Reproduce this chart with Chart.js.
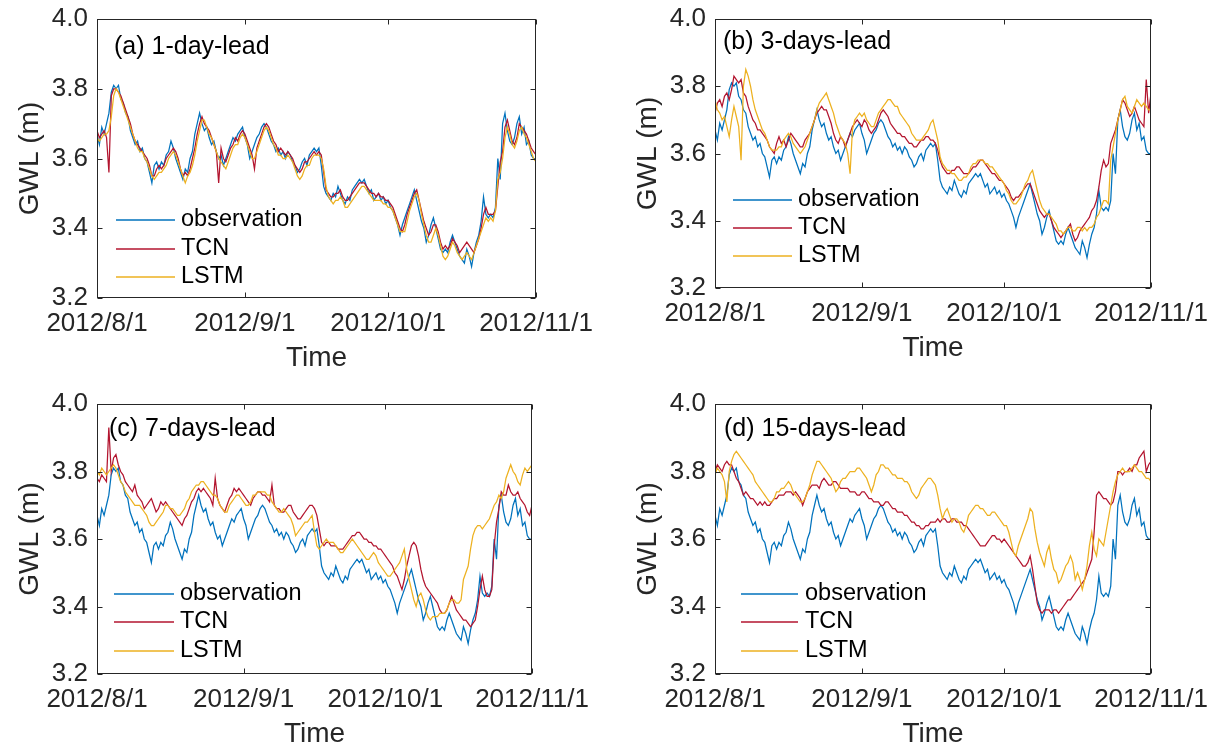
<!DOCTYPE html>
<html>
<head>
<meta charset="utf-8">
<script src="https://cdn.jsdelivr.net/npm/chart.js@4.4.1/dist/chart.umd.min.js"></script>
<style>
  html, body { margin: 0; padding: 0; background: #fff; }
  body { width: 1221px; height: 756px; position: relative; overflow: hidden; }
  canvas { position: absolute; }
</style>
</head>
<body>
<script>
// samples every half day, starting 2012/8/1
const STEP = 0.5;
const tickDays = [0, 31, 61, 92];
const tickLabels = ['2012/8/1', '2012/9/1', '2012/10/1', '2012/11/1'];
const yTicks = [3.2, 3.4, 3.6, 3.8, 4.0];
const seriesNames = ['observation', 'TCN', 'LSTM'];

const observation = [
  3.67,3.64,3.69,3.67,3.70,3.73,3.79,3.81,3.80,3.81, 3.77,3.76,3.73,3.72,3.68,3.66,3.64,3.65,3.62,3.63,
  3.60,3.59,3.56,3.53,3.58,3.59,3.57,3.59,3.58,3.61, 3.62,3.65,3.63,3.60,3.58,3.56,3.54,3.57,3.56,3.60,
  3.62,3.67,3.70,3.73,3.70,3.68,3.69,3.66,3.64,3.65, 3.62,3.60,3.61,3.58,3.60,3.62,3.64,3.66,3.65,3.67,
  3.68,3.69,3.66,3.64,3.60,3.62,3.64,3.66,3.67,3.69, 3.70,3.69,3.67,3.65,3.64,3.62,3.63,3.61,3.62,3.60,
  3.62,3.61,3.59,3.58,3.56,3.57,3.59,3.60,3.58,3.61, 3.62,3.63,3.62,3.63,3.58,3.52,3.50,3.49,3.48,3.50,
  3.49,3.52,3.50,3.48,3.47,3.49,3.48,3.51,3.52,3.53, 3.54,3.53,3.54,3.52,3.50,3.51,3.48,3.49,3.50,3.48,
  3.49,3.47,3.48,3.46,3.45,3.43,3.41,3.38,3.41,3.43, 3.45,3.47,3.49,3.51,3.48,3.45,3.42,3.40,3.36,3.38,
  3.41,3.43,3.40,3.37,3.34,3.33,3.34,3.33,3.36,3.38, 3.36,3.34,3.32,3.31,3.30,3.34,3.32,3.29,3.33,3.36,
  3.38,3.42,3.49,3.44,3.43,3.44,3.43,3.46,3.60,3.54, 3.70,3.73,3.68,3.65,3.64,3.66,3.70,3.72,3.67,3.69,
  3.64,3.65,3.61,3.60,3.60
];

const tcn1 = [
  3.68,3.66,3.67,3.68,3.66,3.56,3.78,3.80,3.80,3.79, 3.78,3.76,3.74,3.72,3.70,3.67,3.65,3.64,3.63,3.62,
  3.61,3.60,3.58,3.55,3.55,3.57,3.58,3.57,3.58,3.60, 3.61,3.62,3.63,3.62,3.60,3.57,3.55,3.56,3.55,3.57,
  3.60,3.63,3.67,3.70,3.72,3.70,3.69,3.68,3.66,3.64, 3.62,3.53,3.63,3.60,3.59,3.61,3.63,3.64,3.66,3.65,
  3.67,3.68,3.67,3.65,3.63,3.61,3.57,3.63,3.65,3.67, 3.69,3.70,3.69,3.67,3.65,3.64,3.62,3.63,3.62,3.61,
  3.62,3.61,3.60,3.58,3.57,3.56,3.57,3.59,3.59,3.60, 3.61,3.62,3.61,3.62,3.61,3.56,3.51,3.50,3.49,3.49,
  3.50,3.50,3.51,3.49,3.48,3.48,3.49,3.50,3.51,3.52, 3.53,3.53,3.53,3.52,3.51,3.50,3.50,3.49,3.50,3.49,
  3.49,3.48,3.48,3.47,3.46,3.44,3.42,3.40,3.39,3.41, 3.44,3.46,3.48,3.50,3.51,3.48,3.45,3.42,3.40,3.38,
  3.39,3.41,3.41,3.39,3.36,3.34,3.35,3.34,3.35,3.37, 3.36,3.35,3.33,3.34,3.35,3.36,3.35,3.34,3.33,3.35,
  3.37,3.40,3.44,3.46,3.44,3.44,3.44,3.45,3.52,3.59, 3.62,3.69,3.71,3.68,3.65,3.64,3.66,3.70,3.69,3.68,
  3.67,3.65,3.63,3.62,3.61
];
const lstm1 = [
  3.66,3.65,3.66,3.67,3.67,3.68,3.72,3.78,3.80,3.79, 3.77,3.75,3.73,3.71,3.69,3.67,3.65,3.63,3.62,3.62,
  3.60,3.59,3.57,3.55,3.54,3.55,3.56,3.56,3.57,3.58, 3.60,3.61,3.62,3.61,3.59,3.57,3.55,3.53,3.55,3.56,
  3.58,3.61,3.65,3.68,3.71,3.71,3.69,3.67,3.66,3.64, 3.62,3.60,3.59,3.58,3.57,3.59,3.61,3.63,3.64,3.64,
  3.66,3.67,3.66,3.64,3.62,3.60,3.60,3.62,3.64,3.66, 3.68,3.69,3.68,3.66,3.64,3.63,3.61,3.61,3.60,3.60,
  3.61,3.60,3.59,3.57,3.55,3.54,3.55,3.57,3.58,3.58, 3.60,3.61,3.61,3.61,3.60,3.57,3.52,3.49,3.48,3.47,
  3.48,3.48,3.49,3.48,3.46,3.46,3.47,3.48,3.49,3.50, 3.51,3.52,3.52,3.51,3.50,3.49,3.48,3.48,3.48,3.48,
  3.47,3.47,3.46,3.46,3.45,3.43,3.41,3.39,3.39,3.39, 3.42,3.45,3.47,3.49,3.50,3.48,3.44,3.41,3.38,3.36,
  3.36,3.38,3.40,3.38,3.35,3.32,3.31,3.32,3.34,3.36, 3.35,3.33,3.32,3.31,3.32,3.33,3.32,3.31,3.33,3.35,
  3.37,3.39,3.41,3.43,3.42,3.43,3.42,3.45,3.54,3.56, 3.60,3.66,3.69,3.67,3.64,3.63,3.65,3.68,3.69,3.67,
  3.66,3.64,3.62,3.60,3.59
];

const tcn3 = [
  3.72,3.75,3.76,3.74,3.77,3.78,3.76,3.79,3.83,3.82, 3.81,3.82,3.78,3.77,3.74,3.72,3.70,3.69,3.67,3.67,
  3.66,3.65,3.64,3.62,3.61,3.60,3.63,3.65,3.63,3.64, 3.62,3.64,3.66,3.65,3.64,3.63,3.62,3.62,3.64,3.65,
  3.66,3.68,3.70,3.72,3.73,3.74,3.73,3.73,3.71,3.69, 3.66,3.64,3.63,3.65,3.64,3.62,3.64,3.66,3.68,3.69,
  3.70,3.69,3.68,3.70,3.69,3.67,3.66,3.67,3.68,3.70, 3.72,3.73,3.72,3.71,3.69,3.68,3.67,3.66,3.66,3.65,
  3.65,3.64,3.63,3.63,3.62,3.62,3.63,3.64,3.64,3.65, 3.65,3.64,3.64,3.63,3.61,3.58,3.56,3.55,3.54,3.54,
  3.55,3.55,3.56,3.56,3.55,3.54,3.54,3.54,3.55,3.56, 3.56,3.57,3.58,3.58,3.57,3.56,3.55,3.54,3.54,3.53,
  3.52,3.52,3.51,3.50,3.49,3.47,3.46,3.47,3.47,3.48, 3.49,3.50,3.51,3.51,3.49,3.47,3.45,3.43,3.42,3.41,
  3.42,3.42,3.40,3.38,3.37,3.36,3.35,3.36,3.37,3.38, 3.39,3.36,3.34,3.35,3.37,3.38,3.39,3.40,3.41,3.43,
  3.44,3.46,3.50,3.55,3.58,3.56,3.57,3.63,3.65,3.67, 3.70,3.73,3.76,3.75,3.73,3.71,3.72,3.74,3.72,3.70,
  3.69,3.68,3.82,3.72,3.78
];
const lstm3 = [
  3.76,3.73,3.72,3.70,3.71,3.68,3.65,3.70,3.74,3.71, 3.68,3.58,3.80,3.85,3.83,3.80,3.76,3.73,3.71,3.69,
  3.67,3.66,3.64,3.62,3.61,3.61,3.61,3.62,3.62,3.64, 3.65,3.66,3.65,3.63,3.62,3.61,3.60,3.61,3.62,3.64,
  3.66,3.68,3.70,3.73,3.75,3.76,3.77,3.78,3.76,3.74, 3.72,3.69,3.67,3.65,3.64,3.63,3.60,3.54,3.67,3.70,
  3.71,3.72,3.71,3.72,3.70,3.69,3.68,3.68,3.70,3.72, 3.73,3.74,3.75,3.76,3.76,3.75,3.74,3.74,3.72,3.71,
  3.70,3.69,3.68,3.66,3.65,3.64,3.64,3.64,3.65,3.66, 3.67,3.69,3.70,3.67,3.64,3.59,3.57,3.56,3.55,3.55,
  3.54,3.54,3.53,3.52,3.52,3.53,3.53,3.54,3.56,3.57, 3.57,3.58,3.58,3.58,3.57,3.57,3.56,3.56,3.55,3.54,
  3.53,3.52,3.51,3.49,3.48,3.46,3.45,3.45,3.46,3.47, 3.49,3.51,3.52,3.54,3.55,3.52,3.49,3.46,3.44,3.43,
  3.42,3.42,3.41,3.40,3.39,3.37,3.37,3.36,3.37,3.38, 3.38,3.37,3.37,3.38,3.38,3.37,3.38,3.37,3.38,3.38,
  3.39,3.41,3.42,3.44,3.46,3.46,3.45,3.58,3.62,3.66, 3.70,3.73,3.76,3.77,3.74,3.73,3.72,3.74,3.76,3.75,
  3.74,3.75,3.74,3.73,3.73
];

const tcn7 = [
  3.78,3.77,3.79,3.78,3.77,3.93,3.80,3.84,3.85,3.82, 3.80,3.79,3.77,3.76,3.75,3.74,3.76,3.73,3.72,3.71,
  3.69,3.70,3.71,3.72,3.70,3.68,3.69,3.71,3.70,3.71, 3.70,3.69,3.68,3.67,3.66,3.65,3.64,3.66,3.67,3.69,
  3.71,3.72,3.74,3.75,3.74,3.75,3.74,3.73,3.72,3.70, 3.78,3.72,3.70,3.69,3.68,3.70,3.72,3.73,3.75,3.74,
  3.75,3.74,3.73,3.72,3.71,3.70,3.72,3.73,3.74,3.74, 3.73,3.73,3.72,3.71,3.76,3.70,3.69,3.69,3.68,3.68,
  3.69,3.70,3.70,3.68,3.67,3.66,3.66,3.67,3.68,3.69, 3.70,3.70,3.69,3.67,3.63,3.59,3.58,3.59,3.59,3.58,
  3.58,3.58,3.57,3.57,3.57,3.58,3.59,3.60,3.61,3.61, 3.62,3.62,3.61,3.60,3.60,3.59,3.59,3.58,3.58,3.57,
  3.57,3.56,3.55,3.54,3.53,3.52,3.50,3.49,3.47,3.45, 3.48,3.52,3.55,3.58,3.59,3.58,3.55,3.51,3.48,3.46,
  3.45,3.44,3.43,3.42,3.41,3.39,3.38,3.38,3.39,3.41, 3.43,3.41,3.39,3.38,3.37,3.36,3.36,3.35,3.34,3.35,
  3.36,3.40,3.45,3.49,3.45,3.43,3.43,3.45,3.58,3.65, 3.69,3.74,3.73,3.73,3.76,3.74,3.73,3.73,3.74,3.72,
  3.71,3.70,3.68,3.67,3.70
];
const lstm7 = [
  3.80,3.79,3.81,3.80,3.79,3.80,3.81,3.82,3.81,3.79, 3.77,3.76,3.74,3.73,3.72,3.71,3.70,3.70,3.70,3.69,
  3.68,3.67,3.65,3.64,3.64,3.65,3.66,3.67,3.68,3.70, 3.70,3.69,3.69,3.68,3.67,3.67,3.68,3.69,3.71,3.72,
  3.74,3.75,3.76,3.76,3.77,3.77,3.76,3.75,3.74,3.73, 3.73,3.72,3.70,3.69,3.68,3.68,3.70,3.71,3.72,3.73,
  3.73,3.72,3.71,3.70,3.70,3.71,3.73,3.73,3.74,3.74, 3.74,3.74,3.73,3.73,3.71,3.70,3.69,3.68,3.68,3.69,
  3.68,3.67,3.66,3.64,3.61,3.62,3.63,3.64,3.65,3.65, 3.66,3.67,3.62,3.58,3.57,3.58,3.59,3.60,3.59,3.59,
  3.59,3.58,3.57,3.56,3.56,3.57,3.58,3.59,3.60,3.59, 3.58,3.57,3.56,3.55,3.54,3.54,3.55,3.56,3.55,3.53,
  3.52,3.51,3.50,3.49,3.49,3.50,3.51,3.52,3.53,3.55, 3.57,3.51,3.48,3.45,3.42,3.40,3.43,3.44,3.42,3.39,
  3.37,3.36,3.37,3.37,3.37,3.38,3.38,3.38,3.39,3.41, 3.42,3.42,3.41,3.41,3.42,3.48,3.50,3.52,3.57,3.61,
  3.63,3.64,3.64,3.63,3.64,3.65,3.66,3.68,3.70,3.71, 3.73,3.72,3.74,3.78,3.80,3.82,3.80,3.79,3.77,3.76,
  3.79,3.81,3.80,3.81,3.82
];

const tcn15 = [
  3.80,3.82,3.81,3.80,3.82,3.83,3.82,3.82,3.80,3.78, 3.77,3.75,3.73,3.74,3.73,3.72,3.72,3.71,3.70,3.71,
  3.70,3.71,3.70,3.70,3.71,3.72,3.72,3.73,3.73,3.73, 3.74,3.74,3.74,3.73,3.74,3.73,3.72,3.70,3.72,3.74,
  3.75,3.76,3.76,3.76,3.75,3.77,3.78,3.77,3.76,3.76, 3.77,3.77,3.76,3.75,3.75,3.75,3.75,3.74,3.74,3.74,
  3.73,3.73,3.74,3.74,3.73,3.72,3.72,3.71,3.71,3.71, 3.70,3.70,3.71,3.71,3.70,3.69,3.69,3.68,3.68,3.68,
  3.67,3.67,3.66,3.65,3.65,3.64,3.64,3.63,3.63,3.64, 3.64,3.65,3.65,3.65,3.66,3.65,3.66,3.66,3.65,3.65,
  3.66,3.66,3.65,3.65,3.65,3.64,3.64,3.63,3.62,3.61, 3.60,3.59,3.58,3.58,3.58,3.59,3.60,3.61,3.61,3.60,
  3.60,3.59,3.60,3.59,3.58,3.57,3.56,3.55,3.54,3.53, 3.52,3.52,3.53,3.55,3.51,3.46,3.41,3.39,3.38,3.39,
  3.39,3.39,3.38,3.39,3.39,3.38,3.39,3.40,3.41,3.42, 3.42,3.43,3.44,3.45,3.46,3.47,3.48,3.50,3.52,3.54,
  3.62,3.73,3.74,3.73,3.72,3.72,3.71,3.70,3.71,3.74, 3.80,3.80,3.79,3.80,3.80,3.81,3.80,3.82,3.82,3.84,
  3.85,3.86,3.80,3.82,3.83
];
const lstm15 = [
  3.79,3.81,3.80,3.79,3.77,3.71,3.80,3.83,3.85,3.86, 3.85,3.84,3.83,3.82,3.81,3.80,3.79,3.77,3.76,3.75,
  3.74,3.73,3.72,3.71,3.71,3.72,3.74,3.74,3.75,3.75, 3.76,3.77,3.76,3.74,3.73,3.72,3.71,3.71,3.72,3.74,
  3.76,3.79,3.81,3.83,3.83,3.82,3.81,3.80,3.79,3.78, 3.76,3.74,3.75,3.77,3.78,3.78,3.79,3.80,3.80,3.80,
  3.81,3.81,3.80,3.79,3.78,3.76,3.74,3.76,3.79,3.80, 3.82,3.82,3.81,3.81,3.80,3.79,3.79,3.78,3.78,3.78,
  3.77,3.77,3.76,3.74,3.73,3.72,3.73,3.75,3.76,3.77, 3.78,3.78,3.77,3.76,3.73,3.69,3.66,3.68,3.69,3.67,
  3.65,3.66,3.66,3.65,3.63,3.62,3.64,3.67,3.68,3.69, 3.70,3.70,3.69,3.69,3.68,3.67,3.67,3.68,3.68,3.67,
  3.66,3.65,3.64,3.64,3.62,3.59,3.56,3.55,3.58,3.60, 3.62,3.64,3.66,3.69,3.68,3.63,3.59,3.56,3.54,3.52,
  3.56,3.58,3.54,3.51,3.50,3.47,3.48,3.50,3.52,3.53, 3.55,3.53,3.48,3.50,3.48,3.45,3.48,3.52,3.58,3.62,
  3.57,3.55,3.60,3.59,3.58,3.62,3.66,3.70,3.74,3.77, 3.79,3.80,3.81,3.80,3.80,3.80,3.81,3.82,3.81,3.80,
  3.80,3.79,3.78,3.78,3.77
];

const COLORS = ['#0072BD', '#B3152F', '#EDB120'];
const FONT = '"Liberation Sans", Arial, Helvetica, sans-serif';
const INK = '#262626';

// page positions of each plot box, and where the title / legend sit inside it
const panels = [
  { title: '(a) 1-day-lead',   tcn: tcn1,  lstm: lstm1,  L: 97,  R: 536,  T: 19,  B: 298,
    tx: 17, ty: 28, lx1: 19, lx2: 78, ltx: 84, ly: 201, lgap: 28.5 },
  { title: '(b) 3-days-lead',  tcn: tcn3,  lstm: lstm3,  L: 715, R: 1151, T: 19,  B: 288,
    tx: 8,  ty: 23, lx1: 18, lx2: 77, ltx: 83, ly: 181, lgap: 28 },
  { title: '(c) 7-days-lead',  tcn: tcn7,  lstm: lstm7,  L: 97,  R: 532,  T: 404, B: 674,
    tx: 12, ty: 25, lx1: 17, lx2: 77, ltx: 83, ly: 190, lgap: 28.3 },
  { title: '(d) 15-days-lead', tcn: tcn15, lstm: lstm15, L: 715, R: 1151, T: 404, B: 674,
    tx: 9,  ty: 25, lx1: 26, lx2: 83, ltx: 90, ly: 190, lgap: 28.3 }
];

function toPoints(arr) {
  return arr.map((v, i) => ({ x: i * STEP, y: v }));
}

// box, inward ticks, panel label and legend (MATLAB look)
const deco = {
  id: 'deco',
  afterDraw(chart, args, o) {
    const { ctx, chartArea: a, scales: { x, y } } = chart;
    const TL = 5;
    ctx.save();
    ctx.strokeStyle = INK;
    ctx.lineWidth = 1;
    const l = Math.round(a.left) + 0.5, r = Math.round(a.right) - 0.5;
    const t = Math.round(a.top) + 0.5, b = Math.round(a.bottom) - 0.5;
    ctx.strokeRect(l, t, r - l, b - t);
    ctx.beginPath();
    tickDays.forEach(d => {
      const px = Math.round(x.getPixelForValue(d)) + 0.5;
      ctx.moveTo(px, b); ctx.lineTo(px, b - TL);
      ctx.moveTo(px, t); ctx.lineTo(px, t + TL);
    });
    yTicks.forEach(v => {
      const py = Math.round(y.getPixelForValue(v)) + 0.5;
      ctx.moveTo(l, py); ctx.lineTo(l + TL, py);
      ctx.moveTo(r, py); ctx.lineTo(r - TL, py);
    });
    ctx.stroke();

    ctx.fillStyle = '#000';
    ctx.textBaseline = 'middle';
    ctx.textAlign = 'left';
    ctx.font = '25px ' + FONT;
    ctx.fillText(o.title, a.left + o.tx, a.top + o.ty);

    ctx.font = '23.5px ' + FONT;
    ctx.lineWidth = 1.5;
    seriesNames.forEach((name, i) => {
      const yy = Math.round(a.top + o.ly + i * o.lgap);
      ctx.strokeStyle = COLORS[i];
      ctx.beginPath();
      ctx.moveTo(a.left + o.lx1, yy);
      ctx.lineTo(a.left + o.lx2, yy);
      ctx.stroke();
      ctx.fillText(name, a.left + o.ltx, yy);
    });
    ctx.restore();
  }
};

function makePanel(p) {
  const YW = 84, PT = 15, PR = 62, XH = 77;
  const w = YW + (p.R - p.L) + PR;
  const h = PT + (p.B - p.T) + XH;
  const cv = document.createElement('canvas');
  cv.width = w; cv.height = h;
  cv.style.left = (p.L - YW) + 'px';
  cv.style.top = (p.T - PT) + 'px';
  cv.style.width = w + 'px';
  cv.style.height = h + 'px';
  document.body.appendChild(cv);

  const line = (label, data, color) => ({
    label, data: toPoints(data), borderColor: color, backgroundColor: color,
    borderWidth: 1.25, pointRadius: 0, tension: 0, fill: false
  });

  new Chart(cv, {
    type: 'line',
    data: {
      datasets: [
        line('LSTM', p.lstm, COLORS[2]),
        line('TCN', p.tcn, COLORS[1]),
        line('observation', observation, COLORS[0])
      ]
    },
    options: {
      responsive: false,
      animation: false,
      devicePixelRatio: 1,
      layout: { padding: { left: 0, top: PT, right: PR, bottom: 0 } },
      plugins: {
        legend: { display: false },
        tooltip: { enabled: false },
        deco: p
      },
      scales: {
        x: {
          type: 'linear', min: 0, max: 92,
          grid: { display: false, drawTicks: false },
          border: { display: false },
          afterBuildTicks: s => { s.ticks = tickDays.map(v => ({ value: v })); },
          ticks: {
            callback: v => tickLabels[tickDays.indexOf(v)],
            autoSkip: false, maxRotation: 0, minRotation: 0, padding: 10,
            color: INK, font: { family: FONT, size: 26 }
          },
          title: { display: true, text: 'Time', color: INK, padding: 0,
                   font: { family: FONT, size: 28 } },
          afterFit: s => { s.height = XH; s.paddingLeft = 0; s.paddingRight = 0; }
        },
        y: {
          min: 3.2, max: 4.0,
          grid: { display: false, drawTicks: false },
          border: { display: false },
          afterBuildTicks: s => { s.ticks = yTicks.map(v => ({ value: v })); },
          ticks: {
            callback: v => v.toFixed(1), padding: 9,
            color: INK, font: { family: FONT, size: 26 }
          },
          title: { display: true, text: 'GWL (m)', color: INK, padding: 0,
                   font: { family: FONT, size: 28 } },
          afterFit: s => { s.width = YW; s.paddingTop = 0; s.paddingBottom = 0; }
        }
      }
    },
    plugins: [deco]
  });
}

panels.forEach(makePanel);
</script>
</body>
</html>
